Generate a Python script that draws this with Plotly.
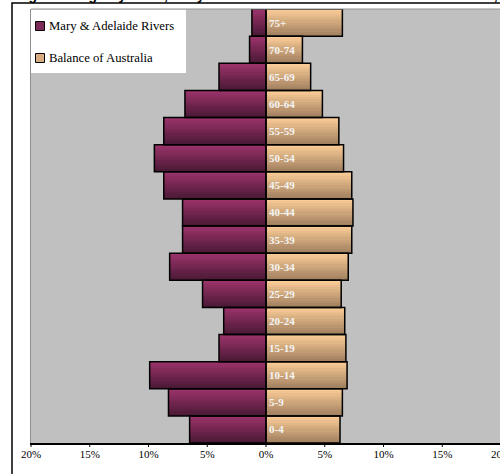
import plotly.graph_objects as go

ages = ["0-4", "5-9", "10-14", "15-19", "20-24", "25-29", "30-34", "35-39",
        "40-44", "45-49", "50-54", "55-59", "60-64", "65-69", "70-74", "75+"]
mary_adelaide = [6.5, 8.3, 9.9, 4.0, 3.6, 5.4, 8.2, 7.1,
                 7.1, 8.7, 9.5, 8.7, 6.9, 4.0, 1.4, 1.2]
balance_aus = [6.3, 6.5, 6.9, 6.8, 6.7, 6.4, 7.0, 7.3,
               7.4, 7.3, 6.6, 6.2, 4.8, 3.8, 3.1, 6.5]
tick_vals = [-20, -15, -10, -5, 0, 5, 10, 15, 20]
tick_text = ["20%", "15%", "10%", "5%", "0%", "5%", "10%", "15%", "20%"]
series_names = ["Mary & Adelaide Rivers", "Balance of Australia"]
x_range = [-20, 20]

W, H = 502, 474
ML, MR, MT, MB = 31, 1, 9, 31
PW, PH = W - ML - MR, H - MT - MB

left_top, left_bot = (158, 52, 108), (72, 24, 52)
right_top, right_bot = (253, 206, 152), (158, 126, 94)
left_mid, right_mid = "rgb(125,42,90)", "rgb(214,172,124)"
N = 12


def mix(a, b, t):
    return "rgb(%d,%d,%d)" % tuple(round(a[i] + (b[i] - a[i]) * t) for i in range(3))


def px(x):  # pixel -> paper x
    return (x - ML) / PW


def py(y):  # pixel -> paper y
    return (H - MB - y) / PH


neg = [-v for v in mary_adelaide]
fig = go.Figure()

# vertical gradient slices
for i in range(N):
    t = (i + 0.5) / N  # 0 = bottom slice
    off = -0.5 + i / N
    fig.add_trace(go.Bar(y=ages, x=neg, orientation="h", showlegend=False,
                         marker=dict(color=mix(left_bot, left_top, t), line=dict(width=0)),
                         width=1.0 / N + 0.002, offset=off, hoverinfo="skip"))
    fig.add_trace(go.Bar(y=ages, x=balance_aus, orientation="h", showlegend=False,
                         marker=dict(color=mix(right_bot, right_top, t), line=dict(width=0)),
                         width=1.0 / N + 0.002, offset=off, hoverinfo="skip"))

# outlines on top
fig.add_trace(go.Bar(y=ages, x=neg, orientation="h", showlegend=False, name=series_names[0],
                     marker=dict(color="rgba(0,0,0,0)", line=dict(color="black", width=1.5)),
                     width=1, offset=-0.5, hoverinfo="skip"))
fig.add_trace(go.Bar(y=ages, x=balance_aus, orientation="h", showlegend=False, name=series_names[1],
                     marker=dict(color="rgba(0,0,0,0)", line=dict(color="black", width=1.5)),
                     width=1, offset=-0.5, hoverinfo="skip",
                     text=ages, textposition="inside", insidetextanchor="start",
                     textangle=0, constraintext="none",
                     textfont=dict(family="Liberation Serif", size=11, color="#f4f4f4", weight="bold")))

shapes = [
    # legend box
    dict(type="rect", xref="paper", yref="paper", x0=px(31), x1=px(186), y0=py(73), y1=py(9.5),
         line=dict(width=0), fillcolor="white", layer="above"),
    # plot area top border
    dict(type="line", xref="paper", yref="paper", x0=0, x1=1, y0=1, y1=1,
         line=dict(color="#909090", width=1), layer="above"),
    # outer chart border
    dict(type="rect", xref="paper", yref="paper",
         x0=px(12), x1=1.2, y0=-0.2, y1=py(3),
         line=dict(color="black", width=1.5), fillcolor="rgba(0,0,0,0)", layer="above"),
]
# x tick marks at the axis tick values
for tv in tick_vals:
    xp = (tv - x_range[0]) / (x_range[1] - x_range[0])
    shapes.append(dict(type="line", xref="paper", yref="paper", x0=xp, x1=xp,
                       y0=0, y1=-4 / PH, line=dict(color="black", width=1), layer="above"))

annotations = [
    dict(text="Figure 4: Age Pyramid, Mary & Adelaide Rivers and Balance of Australia, 2001",
         xref="paper", yref="paper", x=px(14), y=py(4.5),
         xanchor="left", yanchor="bottom", showarrow=False,
         font=dict(family="Liberation Sans", size=14, color="black", weight="bold")),
]
legend_colors = [left_mid, right_mid]
legend_y = [26, 58]
for name, col, yc in zip(series_names, legend_colors, legend_y):
    shapes.append(dict(type="rect", xref="paper", yref="paper",
                       x0=px(35.5), x1=px(44.5), y0=py(yc + 4.5), y1=py(yc - 4.5),
                       line=dict(color="black", width=1), fillcolor=col, layer="above"))
    annotations.append(dict(text=name, xref="paper", yref="paper", x=px(46.5), y=py(yc),
                            xanchor="left", yanchor="middle", showarrow=False,
                            font=dict(family="Liberation Serif", size=12.7, color="black")))

fig.update_layout(
    width=W, height=H, autosize=False,
    margin=dict(l=ML, r=MR, t=MT, b=MB, pad=0, autoexpand=False),
    barmode="overlay", bargap=0,
    paper_bgcolor="white", plot_bgcolor="#c0c0c0",
    font=dict(family="Liberation Serif", size=11, color="black"),
    xaxis=dict(range=x_range, tickvals=tick_vals, ticktext=tick_text,
               showgrid=False, zeroline=False, showline=True, linecolor="black", linewidth=1.5,
               ticks="", tickfont=dict(family="Liberation Serif", size=11), fixedrange=True,
               ticklabeloverflow="allow", automargin=False),
    yaxis=dict(categoryorder="array", categoryarray=ages, showticklabels=False,
               showgrid=False, zeroline=False, showline=True, linecolor="#909090",
               linewidth=1, mirror=True, ticks="", range=[-0.5, 15.5], fixedrange=True,
               automargin=False),
    showlegend=False,
    shapes=shapes,
    annotations=annotations,
)

fig.write_html("out.html", config={"displayModeBar": False, "staticPlot": True},
               post_script="document.body.style.margin='0';document.body.style.overflow='hidden';")
